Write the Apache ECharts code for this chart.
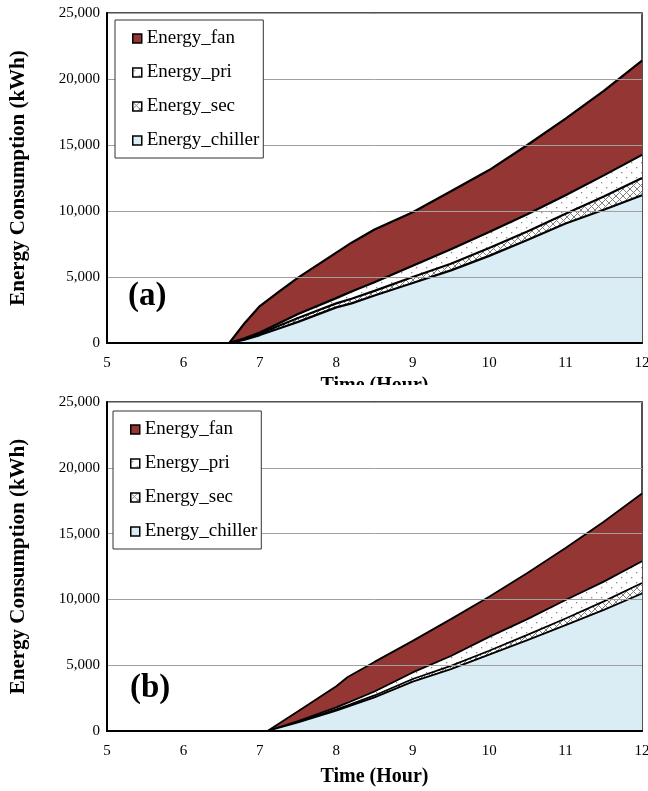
<!DOCTYPE html>
<html>
<head>
<meta charset="utf-8">
<script src="https://cdn.jsdelivr.net/npm/echarts@6/dist/echarts.min.js"></script>
<style>
html,body{margin:0;padding:0;background:#fff;}
#a{position:absolute;left:0;top:0;width:648px;height:385px;}
#b{position:absolute;left:0;top:385px;width:648px;height:406px;}
</style>
</head>
<body>
<div id="a"></div>
<div id="b"></div>
<script>
// ---- Data: panel (a) ----
var hoursA   = [5, 6, 6.6, 6.8, 7, 7.25, 7.5, 8, 8.2, 8.5, 9, 9.5, 10, 10.5, 11, 11.5, 12];
var chillerA = [0, 0, 0, 250, 600, 1100, 1600, 2700, 3000, 3600, 4550, 5500, 6600, 7800, 9050, 10100, 11200];
var secA     = [0, 0, 0, 50, 100, 200, 300, 300, 350, 350, 450, 500, 600, 650, 750, 1000, 1300];
var priA     = [0, 0, 0, 50, 100, 200, 300, 400, 550, 650, 850, 1100, 1200, 1300, 1400, 1600, 1750];
var fanA     = [0, 0, 0, 1150, 2000, 2400, 2750, 3450, 3700, 4000, 4050, 4400, 4700, 5250, 5800, 6400, 7150];

// ---- Data: panel (b) ----
var hoursB   = [5, 6, 7, 7.1, 7.5, 8, 8.15, 8.5, 9, 9.5, 10, 10.5, 11, 11.5, 12];
var chillerB = [0, 0, 0, 0, 650, 1550, 1850, 2550, 3750, 4700, 5800, 6900, 8050, 9200, 10450];
var secB     = [0, 0, 0, 0, 50, 100, 100, 150, 200, 250, 300, 400, 500, 650, 800];
var priB     = [0, 0, 0, 0, 50, 150, 200, 300, 500, 750, 1050, 1200, 1400, 1500, 1650];
var fanB     = [0, 0, 0, 0, 750, 1600, 1950, 2250, 2400, 2800, 3050, 3500, 3950, 4550, 5150];

var seriesNames = ['Energy_fan', 'Energy_pri', 'Energy_sec', 'Energy_chiller'];
var xTicks = [5, 6, 7, 8, 9, 10, 11, 12];
var yTicks = [0, 5000, 10000, 15000, 20000, 25000];

// ---- patterns ----
function hatchCanvas() {
  var c = document.createElement('canvas'); c.width = 7; c.height = 7;
  var g = c.getContext('2d');
  g.fillStyle = '#fff'; g.fillRect(0, 0, 7, 7);
  g.strokeStyle = '#808080'; g.lineWidth = 1;
  g.beginPath(); g.moveTo(0, 0); g.lineTo(7, 7); g.moveTo(7, 0); g.lineTo(0, 7); g.stroke();
  return c;
}
function dotCanvas() {
  var c = document.createElement('canvas'); c.width = 10; c.height = 10;
  var g = c.getContext('2d');
  g.fillStyle = '#fff'; g.fillRect(0, 0, 10, 10);
  g.fillStyle = '#8a8a8a';
  g.fillRect(1, 2, 1.3, 1.3); g.fillRect(6, 7, 1.3, 1.3);
  return c;
}
var hatch = { image: hatchCanvas(), repeat: 'repeat' };
var dots = { image: dotCanvas(), repeat: 'repeat' };
var FAN = '#943634', CHILL = '#daedf4';
var fills = { 'Energy_fan': FAN, 'Energy_pri': dots, 'Energy_sec': hatch, 'Energy_chiller': CHILL };

function makeOption(hours, chiller, sec, pri, fan, cfg) {
  // stacked tops (bottom -> top): chiller, sec, pri, fan
  var layers = [['Energy_chiller', chiller], ['Energy_sec', sec], ['Energy_pri', pri], ['Energy_fan', fan]];
  var run = hours.map(function () { return 0; });
  var tops = {};
  layers.forEach(function (l) {
    run = run.map(function (v, i) { return v + l[1][i]; });
    tops[l[0]] = run.slice();
  });
  // draw top layer first, lower layers over it
  var series = seriesNames.map(function (n, k) {
    return {
      name: n, type: 'line', showSymbol: false, symbol: 'none',
      data: hours.map(function (x, i) { return [x, tops[n][i]]; }),
      lineStyle: { color: '#000', width: cfg.lw },
      itemStyle: { color: n === 'Energy_fan' ? FAN : (n === 'Energy_chiller' ? CHILL : '#fff') },
      areaStyle: { color: fills[n], opacity: 1, origin: 'start' },
      emphasis: { disabled: true },
      clip: true,
      z: 2 + k
    };
  });
  return {
    animation: false,
    backgroundColor: '#fff',
    textStyle: { fontFamily: 'Liberation Serif' },
    grid: { left: 107, right: 6, top: cfg.top, bottom: cfg.bottom, show: true,
      outerBoundsMode: 'none', containLabel: false,
      borderColor: '#1a1a1a', borderWidth: 1.5, backgroundColor: '#fff' },
    legend: {
      orient: 'vertical', left: cfg.legLeft, top: cfg.legTop,
      data: seriesNames.map(function (n) {
        return { name: n, icon: 'rect',
          itemStyle: { color: fills[n], borderColor: '#000', borderWidth: 1.5 } };
      }),
      itemWidth: 9, itemHeight: 9, itemGap: 15,
      padding: [9, 4, 8, 17],
      borderColor: '#333', borderWidth: 1, backgroundColor: '#fff',
      textStyle: { fontFamily: 'Liberation Serif', fontSize: 19, color: '#000', lineHeight: 18 },
      selectedMode: false,
      z: 20
    },
    xAxis: {
      type: 'value', min: 5, max: 12, interval: 1,
      name: 'Time (Hour)', nameLocation: 'middle', nameGap: cfg.xNameGap,
      nameTextStyle: { fontFamily: 'Liberation Serif', fontWeight: 'bold', fontSize: 20, color: '#000' },
      axisLine: { show: true, onZero: false, lineStyle: { color: '#000', width: 2 } },
      axisTick: { show: false },
      splitLine: { show: false },
      axisLabel: { fontFamily: 'Liberation Serif', fontSize: 15, color: '#000', margin: 13,
        formatter: function (v) { return xTicks.indexOf(v) >= 0 ? String(v) : ''; } },
      z: 10
    },
    yAxis: {
      type: 'value', min: 0, max: 25000, interval: 5000,
      name: 'Energy Consumption (kWh)', nameLocation: 'middle', nameGap: 78,
      nameTextStyle: { fontFamily: 'Liberation Serif', fontWeight: 'bold', fontSize: 21, color: '#000' },
      axisLine: { show: true, lineStyle: { color: '#000', width: 2 } },
      axisTick: { show: false },
      splitLine: { show: true, lineStyle: { color: '#a0a0a0', width: 1 } },
      axisLabel: { fontFamily: 'Liberation Serif', fontSize: 15, color: '#000', margin: 7,
        formatter: function (v) { return yTicks.indexOf(v) >= 0 ? v.toLocaleString('en-US') : ''; } },
      z: 10
    },
    graphic: [{
      type: 'text', left: cfg.tagX, top: cfg.tagY, z: 100,
      style: { text: cfg.tag, font: 'bold 33px "Liberation Serif"', fill: '#000' }
    }],
    series: series
  };
}

var ca = echarts.init(document.getElementById('a'), null, { renderer: 'canvas' });
ca.setOption(makeOption(hoursA, chillerA, secA, priA, fanA, {
  lw: 2.2, top: 13, bottom: 42, legLeft: 115, legTop: 20, xNameGap: 33,
  tag: '(a)', tagX: 128, tagY: 280
}));
var cb = echarts.init(document.getElementById('b'), null, { renderer: 'canvas' });
cb.setOption(makeOption(hoursB, chillerB, secB, priB, fanB, {
  lw: 1.8, top: 17, bottom: 60, legLeft: 113, legTop: 26, xNameGap: 36,
  tag: '(b)', tagX: 130, tagY: 287
}));
</script>
</body>
</html>
